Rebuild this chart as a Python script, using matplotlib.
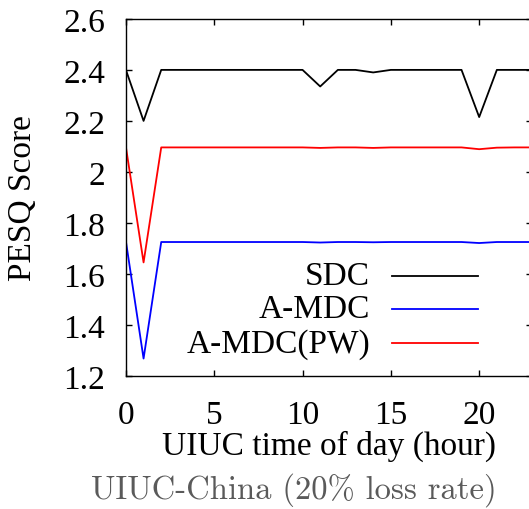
import matplotlib
matplotlib.use('Agg')
import matplotlib.pyplot as plt

# PESQ score per hour of day (UIUC-China, 20% loss rate)
hours = list(range(24))
sdc = [2.40, 2.20, 2.40, 2.40, 2.40, 2.40, 2.40, 2.40, 2.40, 2.40, 2.40, 2.335,
       2.40, 2.40, 2.39, 2.40, 2.40, 2.40, 2.40, 2.40, 2.215, 2.40, 2.40, 2.40]
amdc = [1.728, 1.268, 1.725, 1.725, 1.725, 1.725, 1.725, 1.725, 1.725, 1.725, 1.725, 1.723,
        1.725, 1.725, 1.724, 1.725, 1.725, 1.725, 1.725, 1.725, 1.721, 1.725, 1.725, 1.725]
amdc_pw = [2.098, 1.645, 2.096, 2.096, 2.096, 2.096, 2.096, 2.096, 2.096, 2.096, 2.096, 2.094,
           2.096, 2.096, 2.094, 2.096, 2.096, 2.096, 2.096, 2.096, 2.089, 2.095, 2.096, 2.096]

series = [('SDC', sdc, 'black'), ('A-MDC', amdc, 'blue'), ('A-MDC(PW)', amdc_pw, 'red')]

yticks = [1.2, 1.4, 1.6, 1.8, 2.0, 2.2, 2.4, 2.6]
ytick_labels = ['1.2', '1.4', '1.6', '1.8', '2', '2.2', '2.4', '2.6']
xticks = [0, 5, 10, 15, 20]

plt.rcParams.update({
    'font.family': 'Liberation Serif',
    'font.size': 24,
})

fig = plt.figure(figsize=(5.29, 5.10), dpi=100)
ax = fig.add_axes([0.238, 0.261, 0.768, 0.700])

for name, vals, col in series:
    ax.plot(hours, vals, color=col, lw=1.3)

ax.set_xlim(0, 23)
ax.set_ylim(1.2, 2.6)
ax.set_xticks(xticks)
ax.set_yticks(yticks)
ax.set_yticklabels(ytick_labels)
ax.tick_params(direction='in', length=4, width=1, top=True, right=True,
               labelsize=24)
ax.tick_params(axis='y', pad=15)
ax.tick_params(axis='x', pad=17)
for sp in ax.spines.values():
    sp.set_linewidth(1.0)

ax.set_ylabel('PESQ Score', fontsize=24, labelpad=18)
ax.set_xlabel('UIUC time of day (hour)', fontsize=24, labelpad=0)

# gnuplot-style legend: right aligned text, line sample on the right
leg_y = [0.28, 0.188, 0.091]
for (name, vals, col), ly in zip(series, leg_y):
    ax.text(0.601, ly, name, transform=ax.transAxes, ha='right', va='center',
            fontsize=24)
    ax.plot([0.655, 0.867], [ly, ly], transform=ax.transAxes, color=col, lw=1.3)

fig.text(0.556, 0.022, 'UIUC-China (20% loss rate)', ha='center', va='baseline',
         fontsize=23.5, color='#5a5a5a', family='cmr10')

fig.savefig('out.png', dpi=100)
